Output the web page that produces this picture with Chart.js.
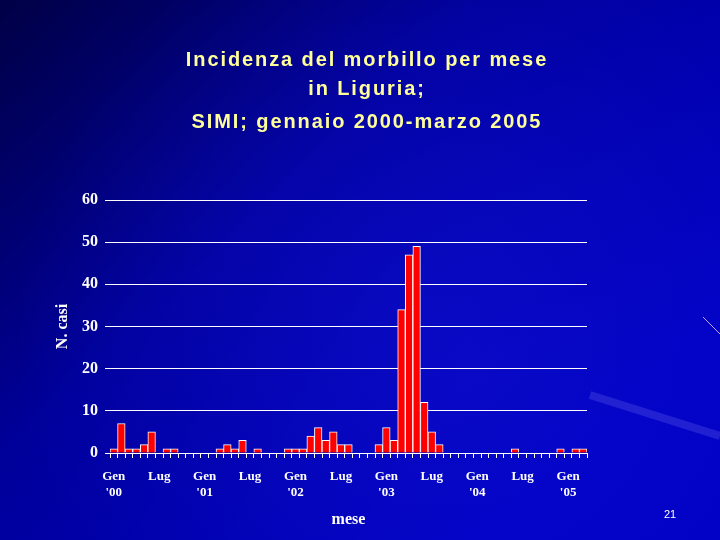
<!DOCTYPE html>
<html>
<head>
<meta charset="utf-8">
<script src="https://cdn.jsdelivr.net/npm/chart.js@4/dist/chart.umd.min.js"></script>
<style>
  html, body { margin: 0; padding: 0; background: #000080; }
  #wrap { width: 720px; height: 540px; }
</style>
</head>
<body>
<div id="wrap"><canvas id="chart" width="720" height="540"></canvas></div>
<script>
// monthly measles cases, Liguria (SIMI)
const months = ["Gen", "Feb", "Mar", "Apr", "Mag", "Giu", "Lug", "Ago", "Set", "Ott", "Nov", "Dic"];
const years = ["'00", "'01", "'02", "'03", "'04", "'05"];
const cases2000 = [1, 7, 1, 1, 2, 5, 0, 1, 1, 0, 0, 0];
const cases2001 = [0, 0, 1, 2, 1, 3, 0, 1, 0, 0, 0, 1];
const cases2002 = [1, 1, 4, 6, 3, 5, 2, 2, 0, 0, 0, 2];
const cases2003 = [6, 3, 34, 47, 49, 12, 5, 2, 0, 0, 0, 0];
const cases2004 = [0, 0, 0, 0, 0, 1, 0, 0, 0, 0, 0, 1];
const cases2005 = [0, 1, 1];
const yTicks = [0, 10, 20, 30, 40, 50, 60];
const titleLines = ["Incidenza del morbillo per mese", "in Liguria;", "SIMI; gennaio 2000-marzo 2005"];

const allCases = [...cases2000, ...cases2001, ...cases2002, ...cases2003, ...cases2004, ...cases2005];
const labels = allCases.map((v, i) => months[i % 12] + " " + years[Math.floor(i / 12)]);

const serif = "'Liberation Serif', 'Times New Roman', serif";
const sans = "'Liberation Sans', Arial, sans-serif";

// slide background, title and page number
const slide = {
  id: "slide",
  beforeDraw: (chart) => {
    const ctx = chart.ctx;
    const w = chart.width, h = chart.height;
    ctx.save();
    const g = ctx.createLinearGradient(0, 0, w * 0.7, h);
    g.addColorStop(0, "#000046");
    g.addColorStop(0.45, "#00009a");
    g.addColorStop(1, "#0000c4");
    ctx.fillStyle = g;
    ctx.fillRect(0, 0, w, h);
    const r = ctx.createRadialGradient(w * 0.62, h * 0.62, 20, w * 0.62, h * 0.62, w * 0.6);
    r.addColorStop(0, "rgba(20,20,220,0.45)");
    r.addColorStop(1, "rgba(20,20,220,0)");
    ctx.fillStyle = r;
    ctx.fillRect(0, 0, w, h);
    ctx.strokeStyle = "rgba(90,90,230,0.35)";
    ctx.lineWidth = 8;
    ctx.beginPath();
    ctx.moveTo(590, 395);
    ctx.lineTo(720, 436);
    ctx.stroke();
    ctx.strokeStyle = "#c8a0ff";
    ctx.lineWidth = 1;
    ctx.beginPath();
    ctx.moveTo(703, 317);
    ctx.lineTo(720, 334);
    ctx.stroke();

    ctx.textAlign = "center";
    ctx.textBaseline = "middle";
    ctx.fillStyle = "#ffff99";
    ctx.font = "bold 20px " + sans;
    ctx.letterSpacing = "1.9px";
    const ys = [60, 89, 122];
    titleLines.forEach((t, i) => ctx.fillText(t, 367, ys[i]));
    ctx.letterSpacing = "0px";

    ctx.fillStyle = "#ffffff";
    ctx.font = "11px " + sans;
    ctx.fillText("21", 670, 515);
    ctx.restore();
  },
};

new Chart(document.getElementById("chart"), {
  type: "bar",
  data: {
    labels: labels,
    datasets: [
      {
        label: "N. casi",
        data: allCases,
        backgroundColor: "#ff0000",
        borderColor: "#ffffff",
        borderWidth: 1,
        barPercentage: 1,
        categoryPercentage: 1,
      },
    ],
  },
  options: {
    responsive: false,
    animation: false,
    layout: { padding: { left: 0, right: 133, top: 200, bottom: 0 } },
    plugins: {
      legend: { display: false },
      tooltip: { enabled: false },
    },
    scales: {
      x: {
        afterFit: (scale) => {
          scale.height = 87;
        },
        grid: {
          offset: true,
          drawOnChartArea: false,
          drawTicks: true,
          tickLength: 5,
          color: "#ffffff",
        },
        border: { display: true, color: "#ffffff", width: 1 },
        ticks: {
          autoSkip: false,
          maxRotation: 0,
          minRotation: 0,
          padding: 11,
          color: "#ffffff",
          font: { family: serif, size: 13, weight: "bold", lineHeight: 1.2 },
          callback: (val, i) => {
            const m = i % 12;
            if (m === 0) return [months[0], years[Math.floor(i / 12)]];
            if (m === 6) return months[6];
            return "";
          },
        },
        title: {
          display: true,
          text: "mese",
          color: "#ffffff",
          font: { family: serif, size: 16, weight: "bold", lineHeight: 1.2 },
          padding: { top: 0, bottom: 11 },
        },
      },
      y: {
        min: 0,
        max: 60,
        afterFit: (scale) => {
          scale.width = 110;
        },
        afterBuildTicks: (scale) => {
          scale.ticks = yTicks.map((v) => ({ value: v }));
        },
        grid: {
          color: "#ffffff",
          drawTicks: true,
          tickLength: 5,
        },
        border: { display: false },
        ticks: {
          padding: 7,
          color: "#ffffff",
          font: { family: serif, size: 16, weight: "bold" },
        },
        title: {
          display: true,
          text: "N. casi",
          color: "#ffffff",
          font: { family: serif, size: 16, weight: "bold", lineHeight: 1.2 },
          padding: { top: 53, bottom: 0 },
        },
      },
    },
  },
  plugins: [slide],
});
</script>
</body>
</html>
